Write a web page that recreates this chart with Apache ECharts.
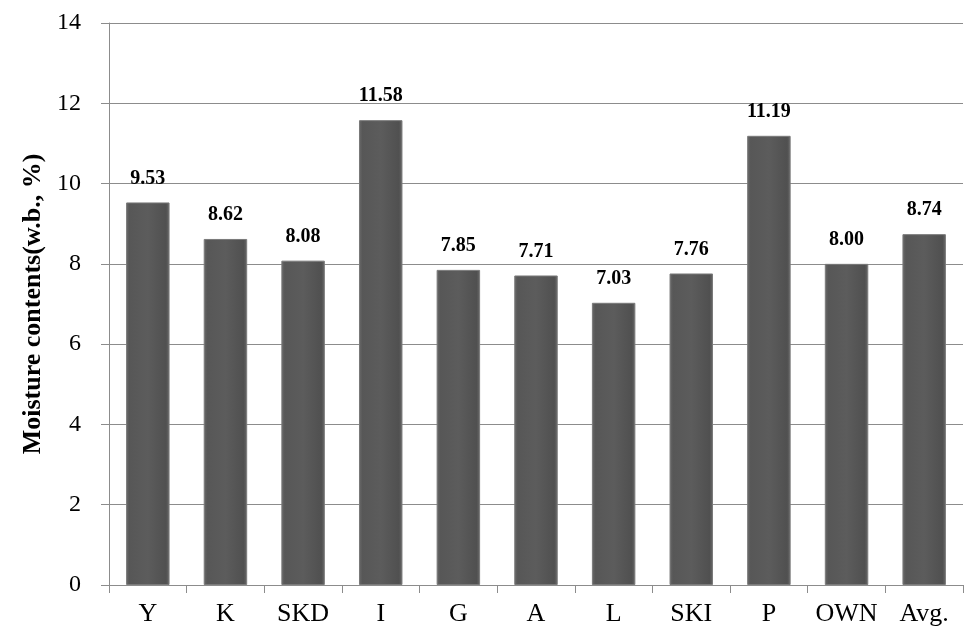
<!DOCTYPE html>
<html>
<head>
<meta charset="utf-8">
<script src="https://cdn.jsdelivr.net/npm/echarts@6/dist/echarts.min.js"></script>
<style>
  html, body { margin: 0; padding: 0; background: #fff; }
  #chart { width: 980px; height: 642px; }
</style>
</head>
<body>
<div id="chart"></div>
<script>
var categories = ['Y', 'K', 'SKD', 'I', 'G', 'A', 'L', 'SKI', 'P', 'OWN', 'Avg.'];
var moisture = [9.53, 8.62, 8.08, 11.58, 7.85, 7.71, 7.03, 7.76, 11.19, 8.00, 8.74];

var serif = '"Liberation Serif", "DejaVu Serif", serif';
var chart = echarts.init(document.getElementById('chart'));

var option = {
  animation: false,
  grid: { left: 109, right: 17, top: 23, bottom: 57 },
  xAxis: {
    type: 'category',
    data: categories,
    axisLine: { lineStyle: { color: '#8c8c8c', width: 1 } },
    axisTick: { show: true, length: 8, lineStyle: { color: '#8c8c8c' } },
    axisLabel: { interval: 0, color: '#000', fontFamily: serif, fontSize: 26, margin: 16 }
  },
  yAxis: {
    type: 'value',
    min: 0,
    max: 14,
    interval: 2,
    name: 'Moisture contents(w.b., %)',
    nameLocation: 'middle',
    nameGap: 60,
    nameTextStyle: { color: '#000', fontFamily: serif, fontSize: 26, fontWeight: 'bold' },
    axisLine: { show: true, lineStyle: { color: '#8c8c8c', width: 1 } },
    axisTick: { show: true, length: 8, lineStyle: { color: '#8c8c8c' } },
    axisLabel: { color: '#000', fontFamily: serif, fontSize: 24, margin: 28 },
    splitLine: { lineStyle: { color: '#8c8c8c', width: 1 } }
  },
  series: [{
    type: 'bar',
    data: moisture,
    barWidth: '56%',
    itemStyle: {
      color: new echarts.graphic.LinearGradient(0, 0, 1, 0, [
        { offset: 0, color: '#6a6a6a' },
        { offset: 0.08, color: '#575757' },
        { offset: 0.5, color: '#5c5c5c' },
        { offset: 0.92, color: '#505050' },
        { offset: 1, color: '#6a6a6a' }
      ]),
      borderColor: '#7a7a7a',
      borderWidth: 1
    },
    label: {
      show: true,
      position: 'top',
      distance: 14,
      color: '#000',
      fontFamily: serif,
      fontSize: 20,
      fontWeight: 'bold',
      formatter: function (p) { return p.value.toFixed(2); }
    }
  }]
};

chart.setOption(option);
</script>
</body>
</html>
